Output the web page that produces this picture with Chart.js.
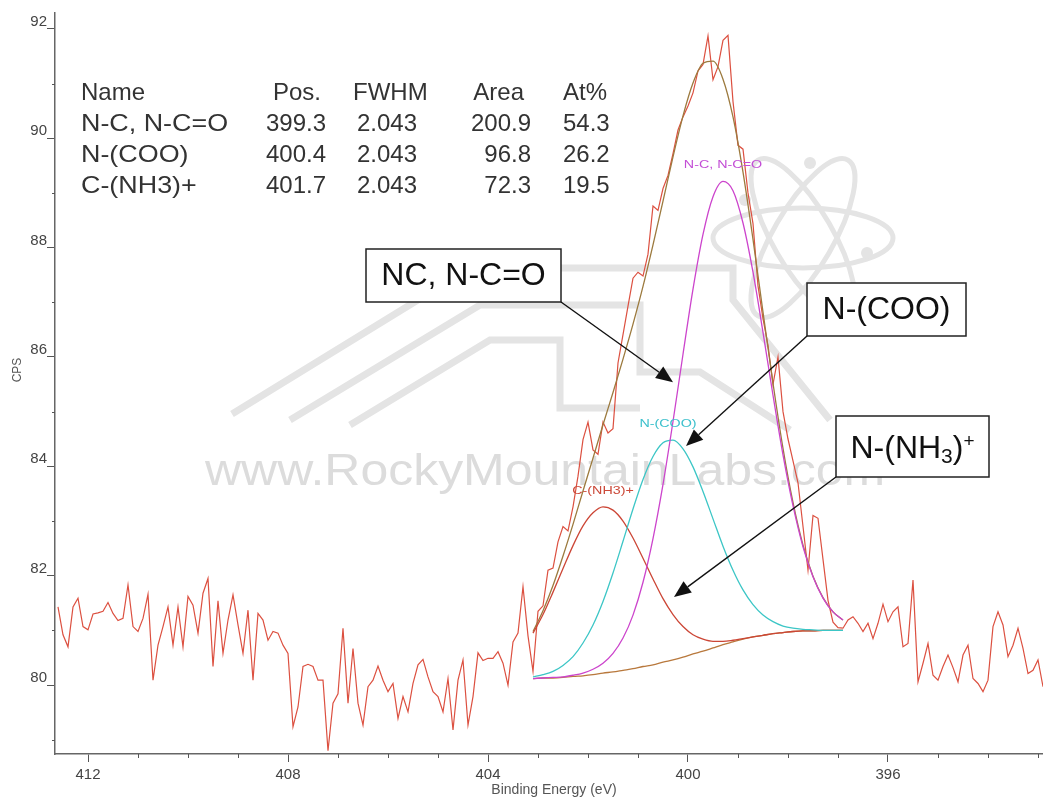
<!DOCTYPE html>
<html>
<head>
<meta charset="utf-8">
<script src="https://cdn.jsdelivr.net/npm/chart.js@4.4.1/dist/chart.umd.min.js"></script>
<style>
  html, body { margin: 0; padding: 0; background: #ffffff; }
  canvas { display: block; }
</style>
</head>
<body>
<canvas id="xps" width="1043" height="797"></canvas>
<script>
// ---- N 1s spectrum: raw counts, sampled every 0.1 eV from 412.6 eV down ----
const RAW_START_EV = 412.6;
const RAW_STEP_EV = 0.1;
const rawCounts = [
  81.43, 80.92, 80.70, 81.43, 81.59, 81.07, 81.01, 81.30, 81.32, 81.35,
  81.51, 81.31, 81.18, 81.22, 81.83, 81.07, 80.98, 81.22, 81.66, 80.09,
  80.73, 81.07, 81.43, 80.73, 81.43, 80.70, 81.62, 81.46, 80.95, 81.68,
  81.95, 80.34, 81.54, 80.58, 81.19, 81.65, 81.10, 80.58, 81.37, 80.09,
  81.31, 81.19, 80.82, 80.98, 80.95, 80.73, 80.58, 79.24, 79.60, 80.34,
  80.38, 80.34, 80.09, 80.09, 78.80, 79.67, 79.84, 81.04, 79.67, 80.67,
  79.67, 79.27, 79.97, 80.09, 80.35, 80.09, 79.88, 80.03, 79.39, 79.79,
  79.51, 80.03, 80.37, 80.47, 80.15, 79.88, 79.79, 79.51, 80.12, 79.18,
  80.09, 80.46, 79.27, 79.79, 80.59, 80.45, 80.49, 80.49, 80.61, 80.40,
  80.00, 80.79, 80.95, 81.80, 80.90, 80.25, 81.35, 81.45, 82.10, 82.14,
  82.62, 82.90, 82.82, 83.26, 83.82, 84.49, 84.81, 84.30, 84.22, 84.81,
  84.61, 84.69, 85.89, 86.41, 86.93, 87.44, 87.55, 87.48, 87.88, 88.76,
  88.68, 89.08, 89.32, 89.72, 90.15, 90.39, 90.59, 90.83, 91.23, 91.35,
  91.87, 91.07, 91.31, 91.79, 91.88, 90.67, 89.87, 89.80, 89.00, 88.44,
  87.30, 86.70, 86.21, 85.50, 86.00, 85.00, 84.50, 84.10, 83.70, 82.90,
  82.10, 83.10, 83.05, 82.30, 81.55, 81.15, 81.05, 81.04, 81.19, 81.25,
  81.13, 80.98, 81.13, 80.85, 81.13, 81.48, 81.16, 81.34, 81.43, 80.70,
  80.76, 81.92, 80.06, 80.40, 80.76, 80.18, 80.09, 80.34, 80.55, 80.32,
  80.06, 80.55, 80.73, 80.12, 80.03, 79.88, 80.09, 81.07, 81.34, 81.10,
  80.52, 80.73, 81.04, 80.67, 80.21, 80.27, 80.46, 79.97
];

// ---- Fit region 403.1 -> 396.9 eV, every 0.2 eV ----
const FIT_START_EV = 403.1;
const FIT_STEP_EV = 0.2;
const backgroundCounts = [
  80.12, 80.13, 80.13, 80.14, 80.16, 80.17, 80.19, 80.22, 80.24, 80.27,
  80.30, 80.34, 80.37, 80.42, 80.46, 80.51, 80.57, 80.62, 80.68, 80.74,
  80.79, 80.84, 80.88, 80.91, 80.94, 80.96, 80.98, 80.99, 80.99, 81.00,
  81.00, 81.00
];
const peakNC = [
  80.12, 80.13, 80.14, 80.15, 80.18, 80.22, 80.29, 80.40, 80.58, 80.86,
  81.28, 81.88, 82.68, 83.67, 84.82, 86.05, 87.24, 88.24, 88.93, 89.21,
  89.04, 88.45, 87.55, 86.45, 85.30, 84.21, 83.28, 82.53, 81.98, 81.59,
  81.34, 81.19
];
const peakCOO = [
  80.15, 80.19, 80.25, 80.36, 80.52, 80.77, 81.10, 81.53, 82.05, 82.63,
  83.22, 83.76, 84.18, 84.43, 84.48, 84.32, 83.99, 83.54, 83.04, 82.54,
  82.10, 81.74, 81.47, 81.28, 81.16, 81.08, 81.04, 81.02, 81.01, 81.00,
  81.00, 81.00
];
const peakNH3 = [
  80.95, 81.29, 81.70, 82.13, 82.55, 82.91, 83.15, 83.26, 83.20, 83.00,
  82.69, 82.32, 81.94, 81.58, 81.29, 81.07, 80.92, 80.84, 80.80, 80.80,
  80.82, 80.85, 80.88, 80.91, 80.94, 80.96, 80.98, 80.99, 80.99, 81.00,
  81.00, 81.00
];
const envelopeCounts = [
  80.98, 81.36, 81.82, 82.36, 82.94, 83.55, 84.15, 84.76, 85.35, 85.96,
  86.60, 87.29, 88.05, 88.85, 89.66, 90.41, 91.01, 91.37, 91.41, 91.08,
  90.39, 89.38, 88.15, 86.82, 85.52, 84.33, 83.34, 82.56, 81.99, 81.60,
  81.34, 81.19
];

// ---- Quantification table ----
const tableHeader = ['Name', 'Pos.', 'FWHM', 'Area', 'At%'];
const componentNames = ['N-C, N-C=O', 'N-(COO)', 'C-(NH3)+'];
const componentPos = [399.3, 400.4, 401.7];
const componentFwhm = [2.043, 2.043, 2.043];
const componentArea = [200.9, 96.8, 72.3];
const componentAtPct = [54.3, 26.2, 19.5];

// ---- Axis labels ----
const xTickLabels = [412, 408, 404, 400, 396];
const yTickLabels = [80, 82, 84, 86, 88, 90, 92];

// ---- Callouts: text, box in px, arrow tip in data units [eV, CPS] ----
const callouts = [
  { text: 'NC, N-C=O', box: [366, 249, 195, 53], from: 'br', tip: [400.30, 85.54] },
  { text: 'N-(COO)',   box: [807, 283, 159, 53], from: 'bl', tip: [400.04, 84.37] },
  { text: 'NH3',       box: [836, 416, 153, 61], from: 'bl', tip: [400.28, 81.61] }
];

const FONT = "'Liberation Sans', Arial, Helvetica, sans-serif";

const rawPoints = rawCounts.map((v, i) => ({ x: +(RAW_START_EV - i * RAW_STEP_EV).toFixed(2), y: v }));
const fitPoints = arr => arr.map((v, i) => ({ x: +(FIT_START_EV - i * FIT_STEP_EV).toFixed(2), y: v }));

const peakColors = ['#cc44cc', '#3cc6c6', '#cc4636'];
const peakLabelColors = ['#c34fd6', '#3cc0cc', '#cc4a3a'];
const peakSeries = [peakNC, peakCOO, peakNH3];

function stretchedText(ctx, text, x, y, sx, align) {
  ctx.save();
  ctx.translate(x, y);
  ctx.scale(sx, 1);
  ctx.textAlign = align;
  ctx.fillText(text, 0, 0);
  ctx.restore();
}

function drawWatermark(chart) {
  const ctx = chart.ctx;
  ctx.save();
  ctx.strokeStyle = '#e4e4e4';
  ctx.lineWidth = 7;
  ctx.lineJoin = 'miter';
  // mountain logo: nested chevron bands
  const bands = [
    [[232, 414], [470, 268], [733, 268], [733, 300], [830, 420]],
    [[290, 420], [480, 305], [640, 305], [640, 372], [700, 372], [790, 430]],
    [[350, 425], [490, 340], [560, 340], [560, 408], [640, 408]]
  ];
  bands.forEach(b => {
    ctx.beginPath();
    b.forEach((p, i) => i ? ctx.lineTo(p[0], p[1]) : ctx.moveTo(p[0], p[1]));
    ctx.stroke();
  });
  // atom
  ctx.lineWidth = 5;
  [0, Math.PI / 3, -Math.PI / 3].forEach(r => {
    ctx.beginPath();
    ctx.ellipse(803, 238, 90, 30, r, 0, Math.PI * 2);
    ctx.stroke();
  });
  ctx.fillStyle = '#e4e4e4';
  [[810, 163], [867, 253], [745, 200]].forEach(p => {
    ctx.beginPath(); ctx.arc(p[0], p[1], 6, 0, Math.PI * 2); ctx.fill();
  });
  // web address
  ctx.fillStyle = '#dcdcdc';
  ctx.font = `45px ${FONT}`;
  ctx.textBaseline = 'alphabetic';
  stretchedText(ctx, 'www.RockyMountainLabs.com', 205, 485, 1.11, 'left');
  ctx.restore();
}

function drawArrow(ctx, x0, y0, x1, y1) {
  const ang = Math.atan2(y1 - y0, x1 - x0);
  const len = 17, half = 7;
  const bx = x1 - len * Math.cos(ang), by = y1 - len * Math.sin(ang);
  ctx.beginPath();
  ctx.moveTo(x0, y0);
  ctx.lineTo(bx, by);
  ctx.stroke();
  ctx.beginPath();
  ctx.moveTo(x1, y1);
  ctx.lineTo(bx + half * Math.sin(ang), by - half * Math.cos(ang));
  ctx.lineTo(bx - half * Math.sin(ang), by + half * Math.cos(ang));
  ctx.closePath();
  ctx.fill();
}

function drawNH3Label(ctx, cx, cy) {
  const parts = [
    { t: 'N-(NH', size: 32, dy: 0 },
    { t: '3', size: 21, dy: 5 },
    { t: ')', size: 32, dy: 0 },
    { t: '+', size: 19, dy: -11 }
  ];
  let total = 0;
  parts.forEach(p => { ctx.font = `${p.size}px ${FONT}`; p.w = ctx.measureText(p.t).width; total += p.w; });
  let x = cx - total / 2;
  const base = cy + 11.5;
  ctx.textAlign = 'left';
  ctx.textBaseline = 'alphabetic';
  parts.forEach(p => {
    ctx.font = `${p.size}px ${FONT}`;
    ctx.fillText(p.t, x, base + p.dy);
    x += p.w;
  });
}

const overlay = {
  id: 'overlay',
  beforeDatasetsDraw(chart) {
    drawWatermark(chart);
  },
  afterDraw(chart) {
    const { ctx, scales: { x, y } } = chart;
    ctx.save();

    // minor tick marks
    ctx.strokeStyle = '#555';
    ctx.lineWidth = 1;
    x.ticks.forEach(t => {
      if (!xTickLabels.includes(t.value)) {
        const px = Math.round(x.getPixelForValue(t.value)) + 0.5;
        ctx.beginPath(); ctx.moveTo(px, x.top); ctx.lineTo(px, x.top + 4); ctx.stroke();
      }
    });
    y.ticks.forEach(t => {
      if (!yTickLabels.includes(t.value)) {
        const py = Math.round(y.getPixelForValue(t.value)) + 0.5;
        ctx.beginPath(); ctx.moveTo(y.right - 3, py); ctx.lineTo(y.right, py); ctx.stroke();
      }
    });

    // axis titles
    ctx.fillStyle = '#555';
    ctx.font = `12px ${FONT}`;
    ctx.textBaseline = 'middle';
    ctx.save();
    ctx.translate(18, 370);
    ctx.rotate(-Math.PI / 2);
    ctx.textAlign = 'center';
    ctx.fillText('CPS', 0, 0);
    ctx.restore();
    ctx.font = `14px ${FONT}`;
    ctx.textAlign = 'center';
    ctx.fillText('Binding Energy (eV)', 554, 790);

    // quantification table
    ctx.fillStyle = '#333';
    ctx.font = `24px ${FONT}`;
    ctx.textBaseline = 'middle';
    const rowY = [93, 124, 155, 186];
    ctx.textAlign = 'left';  ctx.fillText(tableHeader[0], 81, rowY[0]);
    ctx.textAlign = 'right'; ctx.fillText(tableHeader[1], 321, rowY[0]);
    ctx.textAlign = 'left';  ctx.fillText(tableHeader[2], 353, rowY[0]);
    ctx.textAlign = 'right'; ctx.fillText(tableHeader[3], 524, rowY[0]);
    ctx.textAlign = 'left';  ctx.fillText(tableHeader[4], 563, rowY[0]);
    componentNames.forEach((name, k) => {
      const ry = rowY[k + 1];
      stretchedText(ctx, name, 81, ry, 1.12, 'left');
      ctx.textAlign = 'right'; ctx.fillText(componentPos[k].toFixed(1), 326, ry);
      ctx.textAlign = 'left';  ctx.fillText(componentFwhm[k].toFixed(3), 357, ry);
      ctx.textAlign = 'right'; ctx.fillText(componentArea[k].toFixed(1), 531, ry);
      ctx.textAlign = 'left';  ctx.fillText(componentAtPct[k].toFixed(1), 563, ry);
    });

    // component labels above each peak
    ctx.font = `11px ${FONT}`;
    ctx.textBaseline = 'middle';
    componentNames.forEach((name, k) => {
      const px = x.getPixelForValue(componentPos[k]);
      const py = y.getPixelForValue(Math.max(...peakSeries[k])) - 16;
      ctx.fillStyle = peakLabelColors[k];
      stretchedText(ctx, name, px, py, 1.3, 'center');
    });

    // callout boxes and arrows
    callouts.forEach(c => {
      const [bx, by, bw, bh] = c.box;
      ctx.fillStyle = '#ffffff';
      ctx.fillRect(bx, by, bw, bh);
      ctx.strokeStyle = '#222';
      ctx.lineWidth = 1.5;
      ctx.strokeRect(bx, by, bw, bh);
      ctx.fillStyle = '#111';
      if (c.text === 'NH3') {
        drawNH3Label(ctx, bx + bw / 2, by + bh / 2);
      } else {
        ctx.font = `32px ${FONT}`;
        ctx.textAlign = 'center';
        ctx.textBaseline = 'middle';
        ctx.fillText(c.text, bx + bw / 2, by + bh / 2 + 1);
      }
      const sx = c.from === 'br' ? bx + bw : bx;
      const sy = by + bh;
      const tx = x.getPixelForValue(c.tip[0]);
      const ty = y.getPixelForValue(c.tip[1]);
      ctx.strokeStyle = '#111';
      ctx.fillStyle = '#111';
      ctx.lineWidth = 1.4;
      drawArrow(ctx, sx, sy, tx, ty);
    });

    ctx.restore();
  }
};

const lineDefaults = { pointRadius: 0, fill: false, borderWidth: 1.3 };

new Chart(document.getElementById('xps'), {
  type: 'line',
  data: {
    datasets: [
      { ...lineDefaults, label: componentNames[0], data: fitPoints(peakNC), borderColor: peakColors[0], cubicInterpolationMode: 'monotone', order: 0 },
      { ...lineDefaults, label: componentNames[1], data: fitPoints(peakCOO), borderColor: peakColors[1], cubicInterpolationMode: 'monotone', order: 1 },
      { ...lineDefaults, label: componentNames[2], data: fitPoints(peakNH3), borderColor: peakColors[2], cubicInterpolationMode: 'monotone', order: 2 },
      { ...lineDefaults, label: 'Background', data: fitPoints(backgroundCounts), borderColor: '#b8783c', cubicInterpolationMode: 'monotone', order: 3 },
      { ...lineDefaults, label: 'Envelope', data: fitPoints(envelopeCounts), borderColor: '#9c7a3e', cubicInterpolationMode: 'monotone', order: 4 },
      { ...lineDefaults, label: 'Raw', data: rawPoints, borderColor: '#dc5040', borderWidth: 1.2, tension: 0, order: 5 }
    ]
  },
  options: {
    responsive: false,
    animation: false,
    events: [],
    layout: { padding: { top: 13, right: 0, bottom: 0, left: 0 } },
    plugins: { legend: { display: false }, tooltip: { enabled: false } },
    scales: {
      x: {
        type: 'linear',
        reverse: true,
        min: 392.9,
        max: 412.66,
        afterFit: s => { s.height = 43; },
        border: { display: true, color: '#666', width: 1.5 },
        grid: {
          display: true, drawOnChartArea: false, drawTicks: true, tickLength: 8,
          color: c => (c.tick && xTickLabels.includes(c.tick.value)) ? '#555' : 'rgba(0,0,0,0)'
        },
        ticks: {
          stepSize: 1,
          includeBounds: false,
          autoSkip: false,
          maxRotation: 0,
          padding: 4,
          color: '#444',
          font: { family: FONT, size: 15 },
          callback: v => xTickLabels.includes(v) ? String(v) : ''
        }
      },
      y: {
        type: 'linear',
        min: 78.74,
        max: 92.29,
        afterFit: s => { s.width = 55; },
        border: { display: true, color: '#666', width: 1.5 },
        grid: {
          display: true, drawOnChartArea: false, drawTicks: true, tickLength: 8,
          color: c => (c.tick && yTickLabels.includes(c.tick.value)) ? '#555' : 'rgba(0,0,0,0)'
        },
        ticks: {
          stepSize: 1,
          includeBounds: false,
          autoSkip: false,
          padding: 0,
          labelOffset: -7,
          color: '#444',
          font: { family: FONT, size: 15 },
          callback: v => yTickLabels.includes(v) ? String(v) : ''
        }
      }
    }
  },
  plugins: [overlay]
});
</script>
</body>
</html>
